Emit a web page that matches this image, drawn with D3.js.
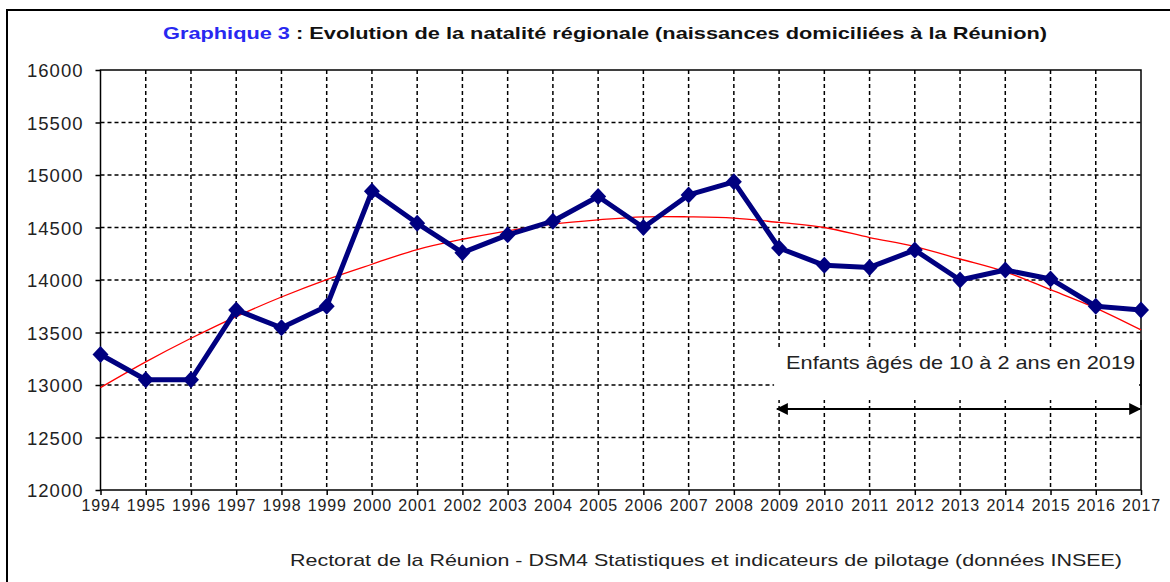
<!DOCTYPE html>
<html>
<head>
<meta charset="utf-8">
<script src="https://cdn.jsdelivr.net/npm/d3@7"></script>
<style>
  body { margin: 0; background: #fff; }
  svg { display: block; font-family: "Liberation Sans", Arial, sans-serif; }
</style>
</head>
<body>
<div id="chart"></div>
<script>
var years = [1994, 1995, 1996, 1997, 1998, 1999, 2000, 2001, 2002, 2003, 2004, 2005,
             2006, 2007, 2008, 2009, 2010, 2011, 2012, 2013, 2014, 2015, 2016, 2017];
var births = [13290, 13050, 13050, 13715, 13545, 13750, 14845, 14540, 14260, 14430, 14560, 14795,
              14500, 14810, 14935, 14305, 14140, 14120, 14285, 14000, 14095, 14010, 13750, 13715];
// courbe de tendance rouge
var trend = [12975, 13220, 13445, 13652, 13838, 14004, 14150, 14290, 14388, 14468, 14532, 14573,
             14602, 14602, 14590, 14548, 14500, 14404, 14318, 14200, 14078, 13908, 13733, 13525];
var yTicks = [12000, 12500, 13000, 13500, 14000, 14500, 15000, 15500, 16000];
var titleBlue = "Graphique 3";
var titleRest = " : Evolution de la natalité régionale (naissances domiciliées à la Réunion)";
var noteText = "Enfants âgés de 10 à 2 ans en 2019";
var noteFrom = 2009, noteTo = 2017;
var sourceText = "Rectorat de la Réunion  - DSM4  Statistiques et indicateurs de pilotage (données INSEE)";

var width = 1170, height = 582;
var plotLeft = 100.5, plotRight = 1141, plotTop = 70, plotBottom = 490;

var svg = d3.select('#chart').append('svg').attr('width', width).attr('height', height);

// cadre extérieur
svg.append('path')
   .attr('d', 'M7,' + height + 'V10H' + width)
   .attr('fill', 'none').attr('stroke', '#000').attr('stroke-width', 2);

var x = d3.scaleLinear().domain([years[0], years[years.length - 1]]).range([plotLeft, plotRight]);
var y = d3.scaleLinear().domain([12000, 16000]).range([plotBottom, plotTop]);

// titre
var title = svg.append('text')
   .attr('x', 163).attr('y', 39)
   .attr('textLength', 884).attr('lengthAdjust', 'spacingAndGlyphs')
   .attr('font-size', 17).attr('font-weight', 'bold');
title.append('tspan').attr('fill', '#2828f0').text(titleBlue);
title.append('tspan').attr('fill', '#111').text(titleRest);

// grille pointillée
var grid = svg.append('g').attr('stroke', '#000').attr('stroke-width', 1.5)
   .attr('stroke-dasharray', '4,3');
grid.selectAll('line.h').data(yTicks.slice(1, -1)).enter().append('line')
   .attr('x1', plotLeft).attr('x2', plotRight)
   .attr('y1', function(d) { return y(d); }).attr('y2', function(d) { return y(d); });
grid.selectAll('line.v').data(years.slice(1, -1)).enter().append('line')
   .attr('y1', plotTop).attr('y2', plotBottom)
   .attr('x1', function(d) { return x(d); }).attr('x2', function(d) { return x(d); });

// axes
var yAxis = d3.axisLeft(y).tickValues(yTicks).tickSize(5).tickFormat(d3.format('d'));
var gy = svg.append('g').attr('transform', 'translate(' + plotLeft + ',0)').call(yAxis);
gy.select('.domain').remove();
gy.selectAll('line').attr('stroke', '#000').attr('stroke-width', 1.5);
gy.selectAll('text').attr('x', -17).attr('dy', '0.36em')
   .attr('font-size', 18.5).attr('letter-spacing', 1).attr('fill', '#222');

var xAxis = d3.axisBottom(x).tickValues(years).tickSize(5).tickFormat(d3.format('d'));
var gx = svg.append('g').attr('transform', 'translate(0,' + plotBottom + ')').call(xAxis);
gx.select('.domain').remove();
gx.selectAll('line').attr('stroke', '#000').attr('stroke-width', 1.5);
gx.selectAll('text').attr('y', 10).attr('font-size', 16).attr('letter-spacing', 0.8)
   .attr('fill', '#222');

// cadre de la zone de tracé
svg.append('rect')
   .attr('x', plotLeft).attr('y', plotTop)
   .attr('width', plotRight - plotLeft).attr('height', plotBottom - plotTop)
   .attr('fill', 'none').attr('stroke', '#000').attr('stroke-width', 1.5);

// encadré blanc de l'annotation
svg.append('rect')
   .attr('x', x(noteFrom) - 5).attr('y', 347).attr('width', x(noteTo) - x(noteFrom) + 3).attr('height', 53)
   .attr('fill', '#fff');
svg.append('line').attr('x1', plotRight).attr('x2', plotRight).attr('y1', 340).attr('y2', 405)
   .attr('stroke', '#000').attr('stroke-width', 1.5);
svg.append('text').attr('x', x(noteFrom) + 7).attr('y', 369)
   .attr('textLength', 349).attr('lengthAdjust', 'spacingAndGlyphs')
   .attr('font-size', 19).attr('fill', '#222').text(noteText);

// flèche double
var defs = svg.append('defs');
defs.append('marker').attr('id', 'arr').attr('viewBox', '0 0 10 10')
   .attr('refX', 9).attr('refY', 5).attr('markerWidth', 7).attr('markerHeight', 6)
   .attr('orient', 'auto-start-reverse')
   .append('path').attr('d', 'M0,0L10,5L0,10Z').attr('fill', '#000');
svg.append('line')
   .attr('x1', x(noteFrom) - 2).attr('x2', x(noteTo) - 1).attr('y1', 409).attr('y2', 409)
   .attr('stroke', '#000').attr('stroke-width', 2)
   .attr('marker-start', 'url(#arr)').attr('marker-end', 'url(#arr)');

// tendance
var trendLine = d3.line()
   .x(function(d, i) { return x(years[i]); })
   .y(function(d) { return y(d); })
   .curve(d3.curveCatmullRom);
svg.append('path').datum(trend).attr('d', trendLine)
   .attr('fill', 'none').attr('stroke', '#ff0000').attr('stroke-width', 1.3);

// naissances
var line = d3.line()
   .x(function(d, i) { return x(years[i]); })
   .y(function(d) { return y(d); });
svg.append('path').datum(births).attr('d', line)
   .attr('fill', 'none').attr('stroke', '#000080').attr('stroke-width', 5)
   .attr('stroke-linejoin', 'round');

svg.selectAll('path.pt').data(births).enter().append('path')
   .attr('class', 'pt')
   .attr('transform', function(d, i) { return 'translate(' + x(years[i]) + ',' + y(d) + ')'; })
   .attr('d', 'M0,-8.5L8,0L0,8.5L-8,0Z')
   .attr('fill', '#000080');

// source
svg.append('text').attr('x', 290).attr('y', 566)
   .attr('textLength', 832).attr('lengthAdjust', 'spacingAndGlyphs')
   .attr('font-size', 17).attr('fill', '#222').text(sourceText);
</script>
</body>
</html>
